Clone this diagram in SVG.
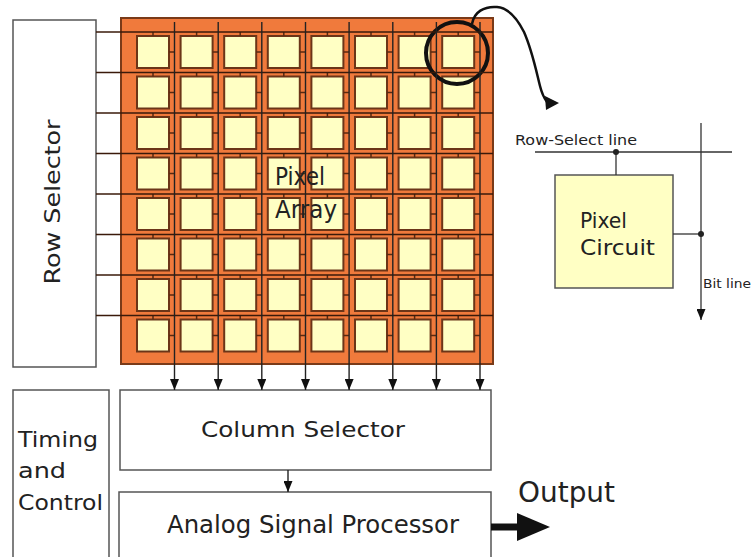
<svg xmlns="http://www.w3.org/2000/svg" xmlns:xlink="http://www.w3.org/1999/xlink" width="755" height="557" viewBox="0 0 755 557">
<style>
.box{fill:#ffffff;stroke:#555;stroke-width:1.5}
.lbl{font-family:"DejaVu Sans","Liberation Sans",sans-serif;fill:#222}
.cell{fill:#ffffc4;stroke:#6b3518;stroke-width:2}
.tick{stroke:#5a2a10;stroke-width:1.5}
.rowline{stroke:#3a1a0a;stroke-width:1.4}
.colline{stroke:#222;stroke-width:1.4}
.thin{stroke:#333;stroke-width:1.3;fill:none}
</style>
<defs>
<marker id="ah" markerUnits="userSpaceOnUse" markerWidth="11" markerHeight="9" refX="11" refY="4.5" orient="auto" viewBox="0 0 11 9">
<path d="M0,0 L11,4.5 L0,9 Z" fill="#111"/>
</marker>
<g id="px">
<rect class="cell" x="0" y="0" width="32" height="32"/>
<line class="tick" x1="16" y1="-4" x2="16" y2="0"/>
<line class="tick" x1="32" y1="16" x2="37.5" y2="16"/>
</g>
</defs>
<rect width="755" height="557" fill="#fff"/>

<g id="row-selector">
<rect class="box" x="13" y="20" width="83" height="347"/>
<text class="lbl" font-size="22" text-anchor="middle" transform="translate(60 202) rotate(-90)" textLength="165" lengthAdjust="spacingAndGlyphs">Row Selector</text>
</g>

<g id="pixel-array">
<rect x="121" y="18" width="372" height="346" fill="#f07a3c" stroke="#7a3a18" stroke-width="2"/>
<g id="cells">
<use xlink:href="#px" x="137" y="36"/><use xlink:href="#px" x="180.6" y="36"/><use xlink:href="#px" x="224.2" y="36"/><use xlink:href="#px" x="267.8" y="36"/><use xlink:href="#px" x="311.4" y="36"/><use xlink:href="#px" x="355" y="36"/><use xlink:href="#px" x="398.6" y="36"/><use xlink:href="#px" x="442.2" y="36"/>
<use xlink:href="#px" x="137" y="76.5"/><use xlink:href="#px" x="180.6" y="76.5"/><use xlink:href="#px" x="224.2" y="76.5"/><use xlink:href="#px" x="267.8" y="76.5"/><use xlink:href="#px" x="311.4" y="76.5"/><use xlink:href="#px" x="355" y="76.5"/><use xlink:href="#px" x="398.6" y="76.5"/><use xlink:href="#px" x="442.2" y="76.5"/>
<use xlink:href="#px" x="137" y="117"/><use xlink:href="#px" x="180.6" y="117"/><use xlink:href="#px" x="224.2" y="117"/><use xlink:href="#px" x="267.8" y="117"/><use xlink:href="#px" x="311.4" y="117"/><use xlink:href="#px" x="355" y="117"/><use xlink:href="#px" x="398.6" y="117"/><use xlink:href="#px" x="442.2" y="117"/>
<use xlink:href="#px" x="137" y="157.5"/><use xlink:href="#px" x="180.6" y="157.5"/><use xlink:href="#px" x="224.2" y="157.5"/><use xlink:href="#px" x="267.8" y="157.5"/><use xlink:href="#px" x="311.4" y="157.5"/><use xlink:href="#px" x="355" y="157.5"/><use xlink:href="#px" x="398.6" y="157.5"/><use xlink:href="#px" x="442.2" y="157.5"/>
<use xlink:href="#px" x="137" y="198"/><use xlink:href="#px" x="180.6" y="198"/><use xlink:href="#px" x="224.2" y="198"/><use xlink:href="#px" x="267.8" y="198"/><use xlink:href="#px" x="311.4" y="198"/><use xlink:href="#px" x="355" y="198"/><use xlink:href="#px" x="398.6" y="198"/><use xlink:href="#px" x="442.2" y="198"/>
<use xlink:href="#px" x="137" y="238.5"/><use xlink:href="#px" x="180.6" y="238.5"/><use xlink:href="#px" x="224.2" y="238.5"/><use xlink:href="#px" x="267.8" y="238.5"/><use xlink:href="#px" x="311.4" y="238.5"/><use xlink:href="#px" x="355" y="238.5"/><use xlink:href="#px" x="398.6" y="238.5"/><use xlink:href="#px" x="442.2" y="238.5"/>
<use xlink:href="#px" x="137" y="279"/><use xlink:href="#px" x="180.6" y="279"/><use xlink:href="#px" x="224.2" y="279"/><use xlink:href="#px" x="267.8" y="279"/><use xlink:href="#px" x="311.4" y="279"/><use xlink:href="#px" x="355" y="279"/><use xlink:href="#px" x="398.6" y="279"/><use xlink:href="#px" x="442.2" y="279"/>
<use xlink:href="#px" x="137" y="319.5"/><use xlink:href="#px" x="180.6" y="319.5"/><use xlink:href="#px" x="224.2" y="319.5"/><use xlink:href="#px" x="267.8" y="319.5"/><use xlink:href="#px" x="311.4" y="319.5"/><use xlink:href="#px" x="355" y="319.5"/><use xlink:href="#px" x="398.6" y="319.5"/><use xlink:href="#px" x="442.2" y="319.5"/>
</g>
<text class="lbl" font-size="24" x="275" y="185" fill="#333" textLength="50" lengthAdjust="spacingAndGlyphs">Pixel</text>
<text class="lbl" font-size="24" x="275" y="218" fill="#333" textLength="62" lengthAdjust="spacingAndGlyphs">Array</text>
</g>

<g id="column-selector">
<rect class="box" x="120" y="390" width="371" height="80"/>
<text class="lbl" font-size="22" x="303" y="437" text-anchor="middle" textLength="204" lengthAdjust="spacingAndGlyphs">Column Selector</text>
</g>

<g id="timing-control">
<rect class="box" x="13" y="390" width="96" height="170"/>
<text class="lbl" font-size="22" x="18" y="447" textLength="80" lengthAdjust="spacingAndGlyphs">Timing</text>
<text class="lbl" font-size="22" x="18" y="478" textLength="48" lengthAdjust="spacingAndGlyphs">and</text>
<text class="lbl" font-size="22" x="18" y="510" textLength="85" lengthAdjust="spacingAndGlyphs">Control</text>
</g>

<g id="analog-signal-processor">
<rect class="box" x="119" y="492" width="372" height="70"/>
<text class="lbl" font-size="24" x="167" y="533" textLength="292" lengthAdjust="spacingAndGlyphs">Analog Signal Processor</text>
</g>

<g id="output-label">
<text class="lbl" font-size="28" x="518" y="502" textLength="97" lengthAdjust="spacingAndGlyphs">Output</text>
</g>

<g id="pixel-circuit">
<rect x="555" y="175" width="118" height="113" fill="#ffffc4" stroke="#555" stroke-width="1.5"/>
<text class="lbl" font-size="22" x="580" y="228" textLength="47" lengthAdjust="spacingAndGlyphs">Pixel</text>
<text class="lbl" font-size="22" x="580" y="255" textLength="75" lengthAdjust="spacingAndGlyphs">Circuit</text>
</g>

<g id="zoom-circle">
<circle cx="457" cy="53" r="31" fill="none" stroke="#111" stroke-width="4"/>
</g>

<g id="connectors">
<g id="row-lines">
<line class="rowline" x1="96" y1="32" x2="493" y2="32"/>
<line class="rowline" x1="96" y1="72.5" x2="493" y2="72.5"/>
<line class="rowline" x1="96" y1="113" x2="493" y2="113"/>
<line class="rowline" x1="96" y1="153.5" x2="493" y2="153.5"/>
<line class="rowline" x1="96" y1="194" x2="493" y2="194"/>
<line class="rowline" x1="96" y1="234.5" x2="493" y2="234.5"/>
<line class="rowline" x1="96" y1="275" x2="493" y2="275"/>
<line class="rowline" x1="96" y1="315.5" x2="493" y2="315.5"/>
</g>
<g id="column-lines">
<line class="colline" x1="174.5" y1="22" x2="174.5" y2="390" marker-end="url(#ah)"/>
<line class="colline" x1="218.2" y1="22" x2="218.2" y2="390" marker-end="url(#ah)"/>
<line class="colline" x1="261.8" y1="22" x2="261.8" y2="390" marker-end="url(#ah)"/>
<line class="colline" x1="305.5" y1="22" x2="305.5" y2="390" marker-end="url(#ah)"/>
<line class="colline" x1="349.1" y1="22" x2="349.1" y2="390" marker-end="url(#ah)"/>
<line class="colline" x1="392.8" y1="22" x2="392.8" y2="390" marker-end="url(#ah)"/>
<line class="colline" x1="436.4" y1="22" x2="436.4" y2="390" marker-end="url(#ah)"/>
<line class="colline" x1="480" y1="22" x2="480" y2="390" marker-end="url(#ah)"/>
</g>
<line class="colline" x1="288" y1="470" x2="288" y2="492" marker-end="url(#ah)"/>
<g id="output-arrow">
<line x1="491" y1="527" x2="520" y2="527" stroke="#111" stroke-width="7"/>
<polygon points="517,513 550,527 517,541" fill="#111"/>
</g>
<path d="M472,24 C474,12 484,6 497,7 C510,8 518,20 524,32 C532,50 536,70 540,86 C542,94 544,98 547,102" fill="none" stroke="#111" stroke-width="2.5"/>
<polygon points="545,96 559,103 546,110" fill="#111"/>
<g id="circuit-wires">
<line class="thin" x1="535" y1="152" x2="732" y2="152"/>
<line class="thin" x1="616" y1="152" x2="616" y2="175"/>
<circle cx="616" cy="152" r="3" fill="#222"/>
<line class="thin" x1="701" y1="123" x2="701" y2="320" marker-end="url(#ah)"/>
<line class="thin" x1="673" y1="234" x2="701" y2="234"/>
<circle cx="701" cy="234" r="3" fill="#222"/>
</g>
</g>
<text class="lbl" font-size="14" x="515" y="145" textLength="122" lengthAdjust="spacingAndGlyphs">Row-Select line</text>
<text class="lbl" font-size="13" x="703" y="288" textLength="48" lengthAdjust="spacingAndGlyphs">Bit line</text>
</svg>
